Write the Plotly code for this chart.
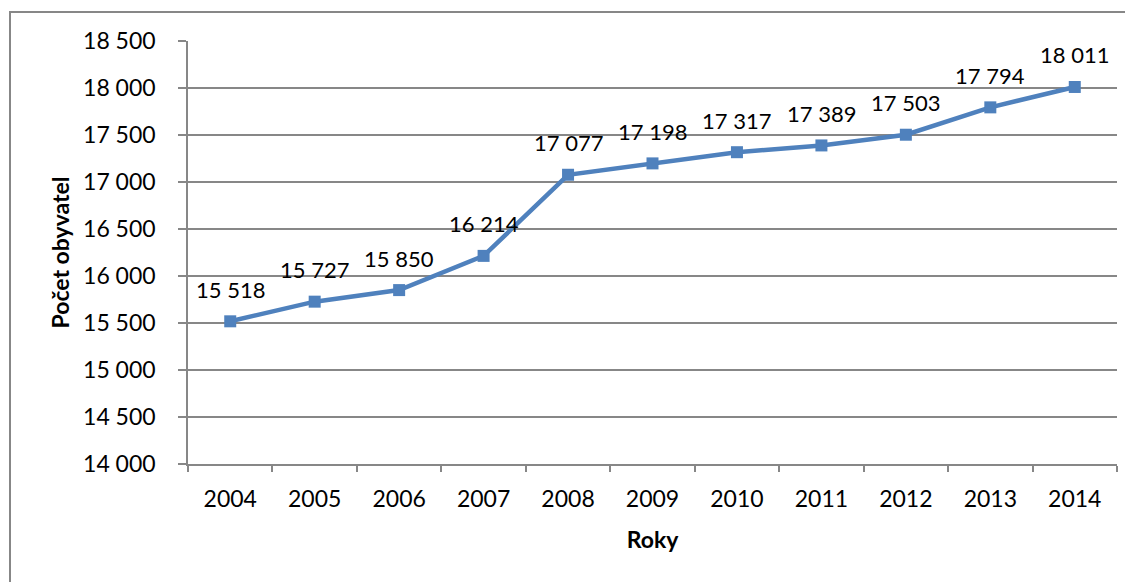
import plotly.graph_objects as go

roky = ["2004", "2005", "2006", "2007", "2008", "2009", "2010", "2011", "2012", "2013", "2014"]
obyvatel = [15518, 15727, 15850, 16214, 17077, 17198, 17317, 17389, 17503, 17794, 18011]
y_ticks = [14000, 14500, 15000, 15500, 16000, 16500, 17000, 17500, 18000, 18500]


def fmt(v):
    # cz thousands separator (space)
    return f"{v:,}".replace(",", " ")


font_name = "Lato, Carlito, Calibri, sans-serif"
grid_col = "#878787"
fsize = 23

fig = go.Figure()

fig.add_trace(go.Scatter(
    x=roky,
    y=obyvatel,
    mode="lines+markers",
    line=dict(color="#4F81BD", width=4.5),
    marker=dict(symbol="square", size=12, color="#4F81BD"),
    cliponaxis=False,
    hoverinfo="skip",
    showlegend=False
))

# data labels above the points (x given as category index)
for i, v in enumerate(obyvatel):
    fig.add_annotation(
        x=i, y=v, text=fmt(v), showarrow=False,
        yshift=32, font=dict(family=font_name, size=fsize - 1, color="black")
    )

fig.update_xaxes(
    type="category",
    range=[-0.5, 10.5],
    automargin=False,
    showgrid=False,
    showline=True,
    linecolor=grid_col,
    linewidth=1.5,
    ticks="outside",
    tickson="boundaries",
    ticklen=6,
    tickcolor=grid_col,
    tickwidth=1.5,
    ticklabelstandoff=14,
    tickfont=dict(family=font_name, size=fsize, color="black"),
    title=dict(text="<b>Roky</b>", font=dict(family=font_name, size=fsize, color="black"), standoff=21),
    zeroline=False
)

fig.update_yaxes(
    range=[14000, 18500],
    tickvals=y_ticks,
    ticktext=[fmt(v) for v in y_ticks],
    automargin=False,
    showgrid=True,
    gridcolor=grid_col,
    gridwidth=1.5,
    showline=True,
    linecolor=grid_col,
    linewidth=1.5,
    ticks="outside",
    ticklen=8,
    tickcolor=grid_col,
    tickwidth=1.5,
    ticklabelstandoff=18,
    tickfont=dict(family=font_name, size=fsize, color="black"),
    title=dict(text="<b>Počet obyvatel</b>", font=dict(family=font_name, size=fsize, color="black"), standoff=7),
    zeroline=False
)

# outer chart frame (cropped at right and bottom in the reference)
fig.add_shape(
    type="rect", xref="paper", yref="paper",
    x0=-178 / 929, x1=1.2, y0=-0.5, y1=1 + 29 / 423,
    line=dict(color=grid_col, width=2), layer="below"
)

# page body has an 8px margin, so the figure is a bit smaller than the window
fig.update_layout(
    width=1125,
    height=574,
    margin=dict(l=180, r=16, t=33, b=118),
    plot_bgcolor="white",
    paper_bgcolor="white",
    font=dict(family=font_name, color="black")
)

fig.write_html("out.html")
